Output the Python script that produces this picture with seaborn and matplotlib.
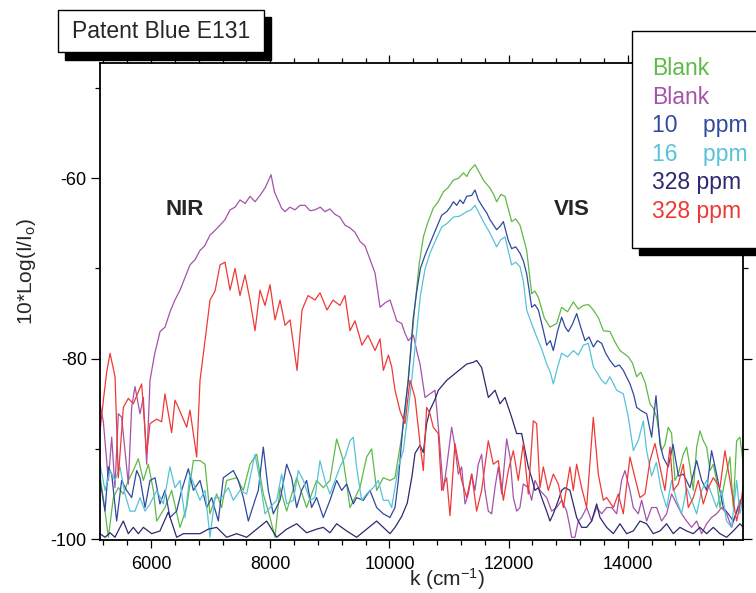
import numpy as np
import pandas as pd
import matplotlib
matplotlib.use("Agg")
import matplotlib.pyplot as plt
from matplotlib.patches import Rectangle
from matplotlib.ticker import MultipleLocator
import seaborn as sns

series_names = ["Blank", "Blank", "10    ppm", "16    ppm", "328 ppm", "328 ppm"]
series_colors = ["#5FB947", "#A453A8", "#2F4A9E", "#56C3D8", "#2E2870", "#EE3A36"]

green_k = [5144, 5200, 5284, 5368, 5451, 5535, 5619, 5703, 5787, 5871, 5955, 6039, 6095, 6234, 6346, 6486,
           6598, 6710, 6822, 6906, 6989, 7101, 7185, 7269, 7437, 7549, 7661, 7773, 7884, 7996, 8080, 8164,
           8276, 8444, 8611, 8779, 8891, 9003, 9115, 9227, 9339, 9506, 9618, 9702, 9786, 9898, 10010, 10094,
           10178, 10261, 10346, 10430, 10500, 10570, 10650, 10738, 10820, 10906, 10990, 11074, 11160, 11241,
           11300, 11353, 11437, 11521, 11577, 11689, 11750, 11800, 11870, 11940, 12052, 12120, 12192, 12304,
           12388, 12440, 12500, 12600, 12695, 12807, 12891, 12990, 13087, 13170, 13255, 13340, 13423, 13510,
           13590, 13702, 13790, 13870, 14010, 14080, 14150, 14220, 14290, 14373, 14430, 14485, 14569, 14625,
           14680, 14736, 14792, 14848, 14932, 14988, 15044, 15100, 15156, 15212, 15268, 15324, 15380, 15435,
           15491, 15547, 15631, 15715, 15771, 15827, 15883, 15939]
green_v = [-93.0, -95.5, -99.8, -95.4, -94.3, -95.0, -93.5, -92.4, -91.1, -93.5, -91.7, -94.6, -98.0, -96.5,
           -94.6, -98.7, -96.5, -91.3, -91.3, -91.7, -97.2, -95.0, -96.5, -93.5, -93.2, -94.6, -91.7, -90.6,
           -95.0, -97.6, -99.8, -94.3, -96.9, -93.2, -96.5, -93.5, -94.3, -93.5, -88.9, -91.3, -96.5, -94.3,
           -90.9, -90.0, -94.6, -93.2, -93.5, -93.2, -89.8, -86.1, -80.0, -74.0, -69.5, -66.5, -64.8, -63.3,
           -62.6, -61.5, -61.0, -60.2, -60.0, -59.4, -59.8, -59.1, -58.5, -59.5, -60.2, -61.1, -61.8, -62.6,
           -61.8, -62.0, -64.8, -64.5, -65.2, -68.0, -72.8, -72.5, -73.2, -75.5, -76.5, -76.1, -74.3, -74.8,
           -73.7, -74.5, -74.1, -74.0, -74.6, -75.5, -76.9, -77.0, -78.2, -79.1, -79.8, -80.5, -82.0, -81.5,
           -82.6, -85.0, -85.5, -86.5, -90.2, -89.5, -87.6, -88.3, -93.5, -92.8, -90.6, -89.8, -92.0, -94.6,
           -89.8, -88.0, -89.1, -89.8, -92.4, -91.7, -93.5, -96.5, -93.5, -90.9, -96.5, -89.1, -88.7, -91.7]

purple_k = [5144, 5200, 5284, 5340, 5395, 5451, 5507, 5563, 5619, 5675, 5731, 5815, 5871, 5927, 5983, 6060,
            6151, 6235, 6319, 6400, 6487, 6570, 6654, 6740, 6822, 6900, 6990, 7070, 7158, 7240, 7326, 7410,
            7493, 7580, 7661, 7745, 7829, 7920, 8014, 8070, 8131, 8190, 8249, 8330, 8416, 8500, 8584, 8670,
            8752, 8840, 8920, 9000, 9088, 9170, 9255, 9340, 9423, 9507, 9591, 9675, 9759, 9843, 9930, 10011,
            10123, 10207, 10262, 10318, 10402, 10458, 10514, 10598, 10682, 10766, 10822, 10849, 10905, 10961,
            11045, 11101, 11157, 11213, 11269, 11325, 11381, 11436, 11492, 11548, 11604, 11660, 11716, 11772,
            11828, 11884, 11968, 12024, 12080, 12136, 12191, 12247, 12331, 12387, 12443, 12527, 12639, 12723,
            12807, 12891, 12975, 13030, 13058, 13114, 13170, 13226, 13310, 13394, 13478, 13562, 13646, 13730,
            13814, 13897, 13953, 14037, 14093, 14177, 14233, 14317, 14401, 14485, 14568, 14652, 14736, 14820,
            14904, 14988, 15072, 15156, 15240, 15324, 15407, 15491, 15575, 15659, 15743, 15827, 15883, 15939]
purple_v = [-85.0, -87.0, -93.5, -88.7, -94.3, -86.1, -86.5, -90.2, -93.9, -85.4, -83.1, -86.1, -84.3, -91.7,
            -82.4, -79.5, -77.0, -76.5, -74.8, -73.5, -72.4, -71.0, -69.6, -69.0, -68.0, -67.5, -66.3, -65.8,
            -65.2, -64.6, -63.5, -63.2, -62.4, -62.8, -62.0, -62.6, -61.9, -61.0, -59.6, -61.5, -62.4, -63.3,
            -63.7, -63.2, -63.5, -63.0, -63.0, -63.6, -63.5, -63.2, -63.7, -63.4, -64.0, -64.3, -65.2, -65.5,
            -66.0, -67.0, -67.5, -69.0, -70.5, -74.3, -73.8, -73.5, -75.8, -76.1, -77.2, -78.0, -77.4, -79.1,
            -80.6, -84.3, -83.9, -83.5, -87.6, -89.8, -94.6, -92.0, -87.6, -89.8, -92.8, -92.0, -96.1, -95.0,
            -92.8, -94.6, -91.7, -90.6, -94.6, -96.9, -97.2, -94.3, -92.0, -95.0, -88.9, -90.9, -95.4, -96.9,
            -96.5, -93.9, -94.3, -95.7, -93.5, -94.6, -95.4, -96.9, -96.5, -95.7, -96.9, -98.7, -99.8, -99.8,
            -98.0, -97.6, -96.5, -98.0, -96.5, -97.2, -96.5, -96.5, -97.2, -93.5, -92.4, -94.6, -96.5, -97.2,
            -95.7, -98.0, -96.5, -96.5, -98.0, -97.2, -95.0, -96.1, -97.2, -98.0, -98.7, -98.0, -99.4, -98.3,
            -97.6, -97.2, -96.5, -97.2, -98.7, -96.9, -95.7, -96.5]

blue_k = [5144, 5228, 5284, 5340, 5423, 5507, 5591, 5675, 5759, 5815, 5899, 5983, 6067, 6150, 6234, 6318,
          6430, 6514, 6626, 6710, 6822, 6934, 7017, 7129, 7213, 7297, 7381, 7465, 7549, 7633, 7744, 7800,
          7884, 7968, 8052, 8164, 8276, 8360, 8444, 8528, 8611, 8695, 8779, 8891, 9003, 9115, 9199, 9283,
          9394, 9450, 9562, 9674, 9786, 9898, 10010, 10094, 10150, 10234, 10318, 10400, 10460, 10520, 10600,
          10682, 10794, 10878, 10962, 11020, 11074, 11130, 11186, 11240, 11297, 11381, 11437, 11493, 11577,
          11630, 11689, 11800, 11860, 11912, 11996, 12052, 12120, 12192, 12250, 12304, 12388, 12440, 12500,
          12570, 12640, 12700, 12751, 12820, 12891, 12950, 13003, 13070, 13143, 13210, 13283, 13350, 13423,
          13490, 13562, 13630, 13702, 13786, 13860, 13926, 14038, 14100, 14150, 14233, 14317, 14401, 14474,
          14541, 14600, 14680, 14760, 14850, 14932, 15044, 15156, 15240, 15324, 15407, 15491, 15603, 15687,
          15771, 15855, 15939]
blue_v = [-93.5, -96.9, -92.0, -92.8, -98.0, -93.5, -94.6, -95.4, -92.4, -93.2, -96.5, -93.5, -93.2, -96.1,
          -94.6, -97.6, -96.9, -94.6, -92.2, -94.6, -93.5, -96.5, -95.4, -98.0, -93.2, -92.8, -92.4, -93.5,
          -95.4, -98.0, -95.7, -94.6, -89.8, -94.6, -97.2, -95.7, -91.7, -93.2, -96.5, -94.6, -93.5, -96.5,
          -95.4, -97.6, -95.7, -93.5, -94.6, -93.9, -96.1, -95.4, -95.7, -94.6, -96.5, -97.2, -97.6, -96.5,
          -93.5, -86.9, -82.4, -75.5, -72.5, -70.0, -68.5, -67.2, -65.4, -64.1, -63.7, -63.2, -62.6, -63.0,
          -62.4, -62.8, -62.0, -61.9, -61.3, -62.4, -63.3, -63.8, -64.6, -65.7, -65.3, -64.8, -66.9, -67.8,
          -67.6, -68.3, -69.2, -70.6, -74.3, -74.0, -74.6, -76.5, -78.5, -78.0, -79.1, -77.0, -75.4, -76.5,
          -77.0, -76.2, -75.0, -76.5, -78.0, -77.6, -78.7, -78.0, -78.3, -79.4, -80.2, -80.9, -80.7, -81.3,
          -82.8, -84.0, -85.4, -85.8, -86.1, -88.7, -84.1, -89.5, -91.0, -92.0, -89.5, -93.0, -92.8, -94.3,
          -91.3, -93.5, -94.6, -90.2, -92.8, -96.5, -97.2, -98.0, -96.5, -95.0]

cyan_k = [5144, 5228, 5312, 5395, 5479, 5563, 5647, 5731, 5815, 5899, 5983, 6095, 6206, 6318, 6402, 6486,
          6570, 6654, 6738, 6822, 6906, 6989, 7073, 7185, 7297, 7381, 7493, 7605, 7744, 7828, 7912, 7996,
          8108, 8192, 8276, 8388, 8472, 8556, 8667, 8751, 8835, 8919, 9003, 9087, 9171, 9255, 9339, 9394,
          9450, 9534, 9618, 9730, 9814, 9898, 9982, 10038, 10094, 10150, 10234, 10318, 10374, 10450, 10520,
          10600, 10682, 10780, 10878, 10970, 11074, 11180, 11297, 11370, 11437, 11500, 11577, 11689, 11800,
          11870, 11940, 12052, 12120, 12192, 12250, 12304, 12380, 12472, 12560, 12640, 12700, 12751, 12820,
          12891, 12990, 13087, 13170, 13255, 13339, 13423, 13490, 13562, 13630, 13702, 13814, 13926, 14010,
          14094, 14180, 14261, 14317, 14400, 14480, 14560, 14652, 14736, 14820, 14904, 14988, 15072, 15156,
          15240, 15324, 15407, 15491, 15575, 15659, 15743, 15827, 15883, 15939]
cyan_v = [-91.7, -94.6, -92.4, -93.5, -92.0, -95.0, -96.9, -96.9, -95.4, -96.9, -96.1, -94.6, -96.1, -92.0,
          -94.3, -93.5, -97.6, -92.8, -94.3, -95.7, -94.6, -99.8, -95.4, -95.4, -94.3, -95.7, -94.6, -95.0,
          -90.6, -93.5, -97.2, -96.5, -95.7, -92.8, -96.1, -95.7, -92.4, -93.5, -95.7, -95.4, -91.3, -93.5,
          -95.0, -93.5, -92.0, -90.9, -89.1, -88.7, -92.0, -95.7, -95.0, -94.3, -93.5, -95.7, -95.7, -96.5,
          -94.3, -92.0, -90.2, -85.7, -82.4, -77.5, -73.0, -70.0, -68.3, -66.8, -65.4, -65.0, -64.3, -64.2,
          -63.7, -63.5, -63.0, -63.8, -64.8, -66.1, -67.6, -66.8, -66.5, -69.6, -69.3, -69.8, -71.5, -74.6,
          -76.0, -77.6, -79.0, -80.6, -81.5, -82.8, -81.0, -79.4, -79.8, -79.1, -79.6, -78.5, -78.3, -80.9,
          -81.6, -82.4, -82.8, -82.0, -83.5, -83.9, -86.5, -90.2, -89.0, -86.9, -90.2, -93.0, -91.5, -94.5,
          -96.5, -93.5, -95.7, -97.2, -94.3, -95.7, -97.2, -94.6, -93.5, -95.0, -96.5, -94.6, -98.0, -98.7,
          -93.5, -97.2, -95.4]

navy_k = [5144, 5228, 5312, 5395, 5479, 5535, 5619, 5703, 5787, 5871, 6011, 6150, 6290, 6430, 6542, 6654,
          6822, 6962, 7101, 7269, 7437, 7605, 7773, 7940, 8108, 8276, 8444, 8611, 8779, 8891, 9003, 9115,
          9283, 9450, 9618, 9786, 9898, 10010, 10094, 10206, 10300, 10380, 10430, 10514, 10570, 10625, 10681,
          10766, 10822, 10962, 11129, 11297, 11409, 11465, 11549, 11661, 11773, 11856, 11940, 12052, 12136,
          12220, 12276, 12331, 12387, 12443, 12499, 12555, 12639, 12695, 12751, 12835, 12891, 12947, 13030,
          13086, 13142, 13226, 13310, 13394, 13478, 13534, 13646, 13758, 13869, 13981, 14093, 14205, 14317,
          14429, 14541, 14652, 14764, 14876, 14988, 15100, 15212, 15324, 15435, 15547, 15659, 15771, 15883,
          15939]
navy_v = [-99.4, -99.8, -99.3, -99.8, -98.7, -98.0, -99.4, -98.7, -99.4, -98.7, -99.4, -99.1, -97.0, -99.8,
          -99.4, -99.4, -99.4, -98.9, -98.7, -99.8, -99.4, -99.8, -98.9, -98.0, -99.8, -98.9, -98.3, -99.3,
          -98.9, -98.7, -99.3, -98.3, -99.1, -99.8, -98.9, -98.0, -98.7, -99.4, -98.7, -97.5, -96.0, -93.0,
          -90.5, -89.6, -90.4, -87.2, -85.7, -84.5, -83.5, -82.4, -81.5, -80.6, -80.4, -80.2, -81.0, -84.3,
          -83.5, -85.0, -84.3, -86.5, -88.3, -88.3, -90.2, -92.0, -93.2, -94.6, -94.3, -95.4, -96.9, -98.0,
          -97.2, -95.7, -94.6, -94.3, -94.6, -96.1, -97.6, -98.7, -98.7, -98.0, -96.1, -97.6, -98.7, -99.4,
          -98.3, -99.4, -99.1, -98.0, -98.3, -99.4, -99.1, -98.3, -99.4, -98.7, -99.1, -99.4, -98.7, -99.4,
          -98.7, -99.4, -99.8, -99.1, -98.3, -98.7]

red_k = [5144, 5200, 5256, 5312, 5396, 5451, 5535, 5619, 5703, 5843, 5927, 5983, 6095, 6178, 6234, 6346,
         6402, 6458, 6598, 6654, 6766, 6822, 6906, 6990, 7074, 7158, 7242, 7326, 7410, 7493, 7577, 7661,
         7745, 7829, 7913, 7997, 8081, 8165, 8249, 8333, 8450, 8534, 8635, 8752, 8836, 8953, 9054, 9171,
         9255, 9339, 9423, 9540, 9641, 9759, 9843, 9899, 9983, 10039, 10095, 10179, 10262, 10346, 10430,
         10514, 10570, 10625, 10681, 10737, 10821, 10877, 10961, 11017, 11100, 11213, 11297, 11381, 11464,
         11548, 11660, 11744, 11828, 11912, 11996, 12080, 12163, 12247, 12331, 12415, 12471, 12527, 12583,
         12667, 12751, 12835, 12919, 13030, 13086, 13142, 13226, 13310, 13422, 13506, 13590, 13646, 13758,
         13841, 13925, 14037, 14121, 14205, 14289, 14373, 14457, 14541, 14624, 14708, 14764, 14848, 14932,
         15016, 15100, 15184, 15268, 15352, 15435, 15547, 15631, 15715, 15827, 15911, 15939]
red_v = [-88.0, -84.6, -81.5, -79.4, -82.0, -93.2, -85.4, -84.4, -85.0, -82.8, -90.6, -87.2, -86.7, -87.0,
         -83.9, -88.2, -84.6, -85.4, -87.6, -85.7, -90.9, -82.4, -78.0, -73.5, -72.5, -69.6, -69.3, -72.4,
         -70.0, -73.0, -70.7, -73.5, -76.9, -72.4, -74.1, -71.8, -75.7, -73.5, -76.3, -75.7, -81.3, -74.6,
         -73.0, -73.5, -72.7, -74.6, -73.5, -74.1, -73.0, -76.9, -75.8, -78.5, -77.4, -79.1, -77.8, -81.3,
         -79.6, -80.9, -83.5, -85.8, -87.2, -82.4, -84.3, -89.4, -92.4, -85.4, -86.1, -87.6, -88.3, -94.6,
         -93.2, -97.4, -89.4, -93.5, -95.4, -92.8, -96.9, -94.6, -89.1, -91.7, -91.3, -95.7, -92.4, -90.2,
         -93.5, -89.4, -95.0, -86.9, -87.2, -94.3, -92.0, -94.6, -92.8, -93.9, -96.5, -92.0, -94.6, -91.7,
         -94.3, -96.5, -86.5, -92.8, -95.7, -95.4, -96.5, -95.0, -97.2, -90.9, -93.2, -95.4, -95.0, -91.3,
         -89.4, -92.0, -94.6, -89.8, -94.6, -93.9, -91.7, -96.5, -95.4, -93.5, -96.1, -94.3, -93.2, -94.3,
         -90.2, -93.5, -98.0, -95.4, -94.0]

all_k = [green_k, purple_k, blue_k, cyan_k, navy_k, red_k]
all_v = [green_v, purple_v, blue_v, cyan_v, navy_v, red_v]

frames = []
for i, (kk, vv) in enumerate(zip(all_k, all_v)):
    frames.append(pd.DataFrame({"k": kk, "val": vv, "serie": f"s{i}"}))
df = pd.concat(frames, ignore_index=True)
palette = {f"s{i}": c for i, c in enumerate(series_colors)}

sns.set_style("ticks")
plt.rcParams["font.family"] = ["Liberation Sans", "DejaVu Sans"]
plt.rcParams["axes.unicode_minus"] = False
plt.rcParams["mathtext.fontset"] = "custom"
plt.rcParams["mathtext.rm"] = "Liberation Sans"
plt.rcParams["mathtext.it"] = "Liberation Sans:italic"
plt.rcParams["mathtext.default"] = "regular"

fig = plt.figure(figsize=(7.56, 5.93), dpi=100)
ax = fig.add_axes([0.1323, 0.0894, 0.8505, 0.8039])

sns.lineplot(data=df, x="k", y="val", hue="serie", palette=palette, estimator=None,
             sort=False, legend=False, linewidth=0.9, ax=ax)

ax.set_xlim(5144, 15934)
ax.set_ylim(-100.1, -47.25)
ax.xaxis.set_major_locator(MultipleLocator(2000))
ax.xaxis.set_minor_locator(MultipleLocator(400))
ax.yaxis.set_major_locator(MultipleLocator(20))
ax.yaxis.set_minor_locator(MultipleLocator(10))
ax.tick_params(which="both", direction="out", top=True, right=True, width=0.9,
               labelsize=13, colors="black")
ax.tick_params(axis="x", which="major", length=5.8, pad=6)
ax.tick_params(axis="x", which="minor", length=3.4)
ax.tick_params(axis="y", which="major", length=6.5, pad=3)
ax.tick_params(axis="y", which="minor", length=3.6)
for sp in ax.spines.values():
    sp.set_linewidth(1.3)
    sp.set_color("black")

ax.set_xlabel("k (cm$^{-1}$)", fontsize=15)
ax.xaxis.set_label_coords(0.54, -0.055)
ax.set_ylabel("10*Log(I/I$_{o}$)", fontsize=15)
ax.yaxis.set_label_coords(-0.096, 0.564)

ax.text(6570, -63.5, "NIR", fontsize=16, fontweight="bold", ha="center", va="center")
ax.text(13056, -63.5, "VIS", fontsize=16, fontweight="bold", ha="center", va="center")

# cuadro del titulo con sombra
fig.add_artist(Rectangle((0.0763 + 0.0093, 0.9118 - 0.0125), 0.2733, 0.0713,
                         transform=fig.transFigure, facecolor="black", edgecolor="black", zorder=5))
fig.add_artist(Rectangle((0.0763, 0.9118), 0.2733, 0.0713, transform=fig.transFigure,
                         facecolor="white", edgecolor="black", linewidth=1.0, zorder=6))
fig.text(0.0763 + 0.2733 / 2, 0.9118 + 0.0713 / 2, "Patent Blue E131", fontsize=16.5,
         ha="center", va="center", zorder=7)

# cuadro de leyenda con sombra
fig.add_artist(Rectangle((0.8356 + 0.0093, 0.5823 - 0.0125), 0.2, 0.3659,
                         transform=fig.transFigure, facecolor="black", edgecolor="black", zorder=5))
fig.add_artist(Rectangle((0.8356, 0.5823), 0.2, 0.3659, transform=fig.transFigure,
                         facecolor="white", edgecolor="black", linewidth=1.0, zorder=6))
for i, (name, col) in enumerate(zip(series_names, series_colors)):
    y_px = 75 + 28.6 * i
    fig.text(651.7 / 756, 1 - y_px / 593, name, color=col, fontsize=16.5,
             ha="left", va="baseline", zorder=7)

fig.savefig("out.png", dpi=100)
